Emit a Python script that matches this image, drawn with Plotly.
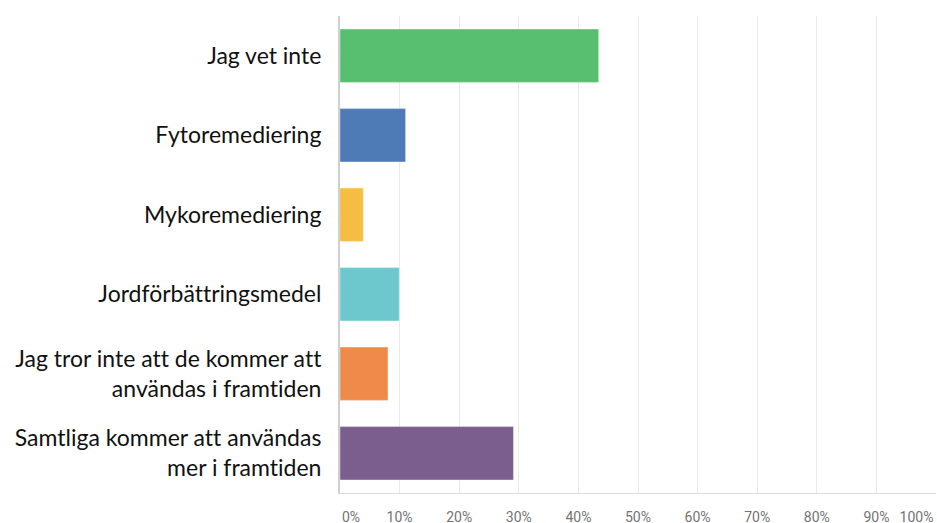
import plotly.graph_objects as go

categories = [
    "Jag vet inte",
    "Fytoremediering",
    "Mykoremediering",
    "Jordförbättringsmedel",
    "Jag tror inte att de kommer att<br>användas i framtiden",
    "Samtliga kommer att användas<br>mer i framtiden",
]
values = [43.4, 11.0, 3.9, 9.95, 8.05, 29.1]
colors = ["#57BF6F", "#4E7AB6", "#F5BD42", "#6CC8CC", "#F08A4B", "#7B5D8E"]
tick_vals = [0, 10, 20, 30, 40, 50, 60, 70, 80, 90, 100]
tick_text = ["0%", "10%", "20%", "30%", "40%", "50%", "60%", "70%", "80%", "90%", "100%"]

W, H = 937, 523
L, R, T, B = 340, 1, 16, 30
plot_w = W - L - R

tick_font = dict(family="Roboto, sans-serif", size=14, color="#737373")

fig = go.Figure()
fig.add_trace(go.Bar(
    x=values, y=categories, orientation="h",
    marker=dict(color=colors, line=dict(color="rgba(255,255,255,0.35)", width=1)),
    hoverinfo="x+y", showlegend=False,
))
# invisible trace carrying the inset end labels (0% and 100%)
fig.add_trace(go.Scatter(
    x=[tick_vals[0], tick_vals[-1]], y=[categories[0], categories[0]],
    xaxis="x2", mode="markers", marker=dict(opacity=0),
    hoverinfo="skip", showlegend=False,
))

fig.update_layout(
    template="none",
    width=W, height=H,
    margin=dict(l=L, r=R, t=T, b=B, pad=0),
    paper_bgcolor="white", plot_bgcolor="rgba(0,0,0,0)",
    bargap=0.33,
    xaxis=dict(
        range=[0, 100], tickvals=tick_vals[1:-1], ticktext=tick_text[1:-1],
        showgrid=True, gridcolor="#e9e9e9", gridwidth=1,
        showline=True, linecolor="#dcdcdc", linewidth=1,
        zeroline=False, fixedrange=True, automargin=False,
        ticks="outside", ticklen=11, tickcolor="rgba(0,0,0,0)",
        tickfont=tick_font,
    ),
    xaxis2=dict(
        range=[0, 100], tickvals=[tick_vals[0], tick_vals[-1]],
        ticktext=[tick_text[0], tick_text[-1]],
        domain=[(351 - L) / plot_w, (916.5 - L) / plot_w],
        anchor="free", position=0,
        showgrid=False, showline=False, zeroline=False,
        ticks="outside", ticklen=11, tickcolor="rgba(0,0,0,0)",
        tickfont=tick_font,
        fixedrange=True, automargin=False,
    ),
    yaxis=dict(
        categoryorder="array", categoryarray=categories[::-1],
        showline=True, linecolor="#cfcfcf", linewidth=2,
        showgrid=False, zeroline=False,
        ticks="outside", ticklen=12, tickcolor="rgba(0,0,0,0)",
        tickfont=dict(family="Lato, 'Open Sans', sans-serif", size=23, color="#111111"),
        fixedrange=True, automargin=False,
    ),
)

fig.write_html(
    "out.html",
    config={"displayModeBar": False},
    post_script=(
        "document.body.style.margin='0';document.body.style.padding='0';"
        "var s=document.createElement('style');"
        "s.textContent='text{font-variant-ligatures:none;font-feature-settings:\"liga\" 0;}';"
        "document.head.appendChild(s);"
    ),
)
